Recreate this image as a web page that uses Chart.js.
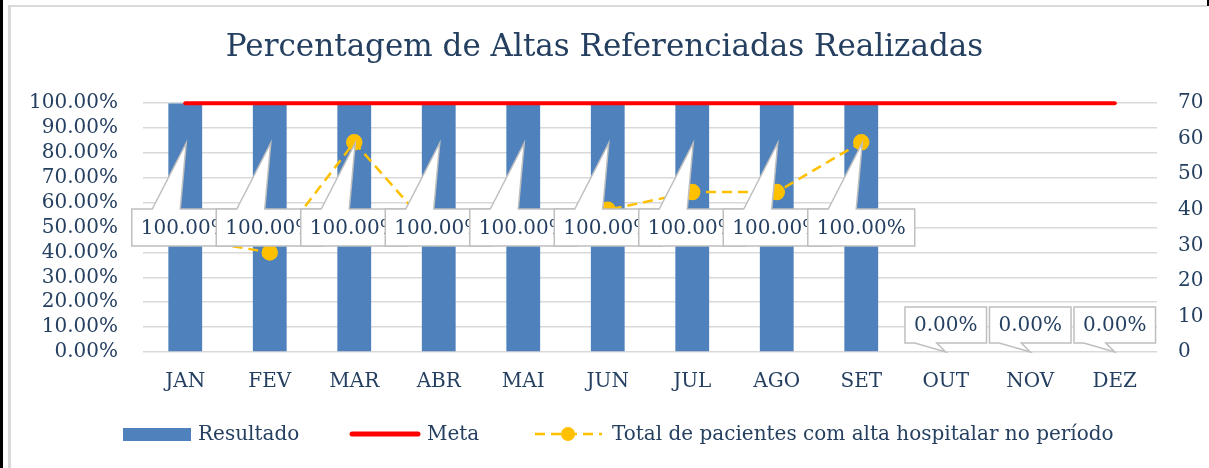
<!DOCTYPE html>
<html>
<head>
<meta charset="utf-8">
<script src="https://cdn.jsdelivr.net/npm/chart.js@4.4.1/dist/chart.umd.min.js"></script>
<style>
  body { margin: 0; background: #fff; }
  #wrap { position: relative; width: 1209px; height: 468px; overflow: hidden; }
  .edge { position: absolute; left: 0; top: 0; width: 3px; height: 468px; background: #000; }
  .corner { position: absolute; right: 0; top: 0; width: 2px; height: 6px; background: #000; }
  .frame { position: absolute; left: 8px; top: 5px; width: 1199px; height: 463px;
           border-top: 2px solid #D9D9D9; border-left: 3px solid #D9D9D9; box-sizing: border-box; }
  canvas { position: absolute; left: 0; top: 0; }
</style>
</head>
<body>
<div id="wrap">
  <div class="edge"></div>
  <div class="corner"></div>
  <div class="frame"></div>
  <canvas id="grafico" width="1209" height="468"></canvas>
</div>
<script>
// dados
const meses = ['JAN', 'FEV', 'MAR', 'ABR', 'MAI', 'JUN', 'JUL', 'AGO', 'SET', 'OUT', 'NOV', 'DEZ'];
const resultado = [100, 100, 100, 100, 100, 100, 100, 100, 100, 0, 0, 0];
const meta = [100, 100, 100, 100, 100, 100, 100, 100, 100, 100, 100, 100];
const totalPacientes = [32, 28, 59, 32, 35, 40, 45, 45, 59, null, null, null];

const azulTexto = '#243F60';
const fonte = '"DejaVu Serif"';

// caixas de rótulo tipo "balão" do Excel
const balloes = {
  id: 'balloes',
  afterDatasetsDraw(chart) {
    const ctx = chart.ctx;
    const y = chart.scales.y;
    const barras = chart.getDatasetMeta(0).data;
    ctx.save();
    ctx.font = '20px ' + fonte;
    barras.forEach(function(bar, i) {
      const v = resultado[i];
      const txt = v.toFixed(2) + '%';
      const w = ctx.measureText(txt).width + 18;
      const cx = bar.x;
      const left = cx - w / 2;
      let top, h, pts;
      if (v > 0) {
        h = 37;
        top = y.getPixelForValue(v / 2) - h / 2;
        const tipY = y.getPixelForValue(v * 0.84);
        pts = [[left, top], [cx - 33, top], [cx + 1, tipY], [cx - 5, top], [left + w, top],
               [left + w, top + h], [left, top + h]];
      } else {
        h = 36;
        const base = y.getPixelForValue(0);
        top = base - 9 - h;
        pts = [[left, top], [left + w, top], [left + w, top + h], [cx - 9, top + h], [cx, base],
               [cx - 31, top + h], [left, top + h]];
      }
      ctx.beginPath();
      ctx.moveTo(pts[0][0], pts[0][1]);
      for (let k = 1; k < pts.length; k++) ctx.lineTo(pts[k][0], pts[k][1]);
      ctx.closePath();
      ctx.fillStyle = '#fff';
      ctx.fill();
      ctx.strokeStyle = '#BFBFBF';
      ctx.lineWidth = 1.5;
      ctx.stroke();
      ctx.fillStyle = azulTexto;
      ctx.textAlign = 'center';
      ctx.textBaseline = 'middle';
      ctx.fillText(txt, cx, top + h / 2 + 1);
    });
    ctx.restore();
  }
};

// legenda desenhada à mão (linha tracejada com marcador)
const legenda = {
  id: 'legenda',
  afterDraw(chart) {
    const ctx = chart.ctx;
    const ds = chart.data.datasets;
    const ly = 434;
    ctx.save();
    ctx.font = '20px ' + fonte;
    ctx.textBaseline = 'middle';
    // Resultado
    ctx.fillStyle = ds[0].backgroundColor;
    ctx.fillRect(123, ly - 6, 68, 13);
    ctx.fillStyle = azulTexto;
    ctx.fillText(ds[0].label, 198, ly + 1);
    // Meta
    ctx.strokeStyle = ds[1].borderColor;
    ctx.lineWidth = 5;
    ctx.lineCap = 'round';
    ctx.beginPath(); ctx.moveTo(352, ly); ctx.lineTo(418, ly); ctx.stroke();
    ctx.fillText(ds[1].label, 427, ly + 1);
    // Total
    ctx.strokeStyle = ds[2].borderColor;
    ctx.lineWidth = 2.5;
    ctx.lineCap = 'butt';
    ctx.setLineDash([10, 6]);
    ctx.beginPath(); ctx.moveTo(535, ly); ctx.lineTo(602, ly); ctx.stroke();
    ctx.setLineDash([]);
    ctx.fillStyle = ds[2].pointBackgroundColor;
    ctx.beginPath(); ctx.arc(568, ly, 7, 0, Math.PI * 2); ctx.fill();
    ctx.fillStyle = azulTexto;
    ctx.fillText(ds[2].label, 612, ly + 1);
    ctx.restore();
  }
};

new Chart(document.getElementById('grafico'), {
  type: 'bar',
  data: {
    labels: meses,
    datasets: [
      {
        label: 'Resultado',
        data: resultado,
        backgroundColor: '#4F81BD',
        yAxisID: 'y',
        barPercentage: 0.4,
        categoryPercentage: 1,
        order: 2
      },
      {
        type: 'line',
        label: 'Meta',
        data: meta,
        borderColor: '#FF0000',
        borderWidth: 4,
        borderCapStyle: 'round',
        pointRadius: 0,
        clip: false,
        yAxisID: 'y',
        order: 1
      },
      {
        type: 'line',
        label: 'Total de pacientes com alta hospitalar no período',
        data: totalPacientes,
        borderColor: '#FFC000',
        borderWidth: 2.5,
        borderDash: [10, 6],
        pointRadius: 7,
        pointBackgroundColor: '#FFC000',
        pointBorderColor: '#FFC000',
        yAxisID: 'y1',
        order: 0
      }
    ]
  },
  options: {
    responsive: false,
    animation: false,
    devicePixelRatio: 1,
    layout: { padding: 0 },
    plugins: {
      legend: { display: false },
      tooltip: { enabled: false },
      title: {
        display: true,
        text: 'Percentagem de Altas Referenciadas Realizadas',
        color: azulTexto,
        font: { family: fonte, size: 31, weight: 'normal' },
        padding: { top: 29, bottom: 37 }
      }
    },
    scales: {
      x: {
        grid: { display: false, drawTicks: false },
        border: { display: false },
        ticks: { color: azulTexto, font: { family: fonte, size: 20 }, padding: 18, maxRotation: 0, autoSkip: false },
        afterFit: function(s) { s.height = 116; }
      },
      y: {
        position: 'left',
        min: 0, max: 100,
        grid: { color: '#D9D9D9', lineWidth: 1.5, drawTicks: false },
        border: { display: false },
        ticks: {
          stepSize: 10, autoSkip: false, padding: 25, color: azulTexto, font: { family: fonte, size: 20 },
          callback: function(v) { return v.toFixed(2) + '%'; }
        },
        afterFit: function(s) { s.width = 143; }
      },
      y1: {
        position: 'right',
        min: 0, max: 70,
        grid: { display: false, drawTicks: false },
        border: { display: false },
        ticks: { stepSize: 10, autoSkip: false, padding: 21, color: azulTexto, font: { family: fonte, size: 20 } },
        afterFit: function(s) { s.width = 52; }
      }
    }
  },
  plugins: [balloes, legenda]
});
</script>
</body>
</html>
